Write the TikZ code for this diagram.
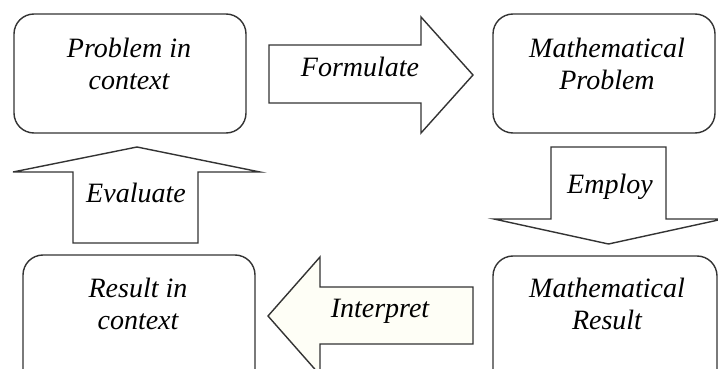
\documentclass[tikz,border=0pt]{standalone}
\usepackage{fontspec}
\setmainfont{Liberation Serif}
\usetikzlibrary{positioning}

\definecolor{ivory}{HTML}{FEFEF6}
\definecolor{edge}{HTML}{333333}

\tikzset{
  box/.style={draw=edge, line width=1.4pt, rounded corners=20pt, fill=white},
  txt/.style={align=center, font=\fontsize{28}{32}\selectfont\itshape, inner sep=0pt},
  blockarrow/.style={draw=edge, line width=1.4pt, line join=miter, fill=white}
}

\begin{document}
\begin{tikzpicture}[x=1pt,y=-1pt]

\clip (0,0) rectangle (718,369);
\fill[white] (0,0) rectangle (718,369);

% boxes
\node[box, minimum width=232pt, minimum height=119pt] (pic) at (130,73.5) {};
\node[box, minimum width=222pt, minimum height=119pt] (mp) at (604,73.5) {};
\node[box, minimum width=224pt, minimum height=150pt] (mr) at (605,331) {};
\node[box, minimum width=232pt, minimum height=150pt] (ric) at (139,330) {};

% box texts
\node[txt] (pictext) at (129,64) {Problem in\\context};
\node[txt] (mptext) at (607,64) {Mathematical\\Problem};
\node[txt] (mrtext) at (607,304) {Mathematical\\Result};
\node[txt] (rictext) at (138,304) {Result in\\context};

% block arrows
\draw[blockarrow] (269,45) -- (421,45) -- (421,17) -- (473,75)
  -- (421,133) -- (421,103) -- (269,103) -- cycle;
\draw[blockarrow] (551,147) -- (666,147) -- (666,219) -- (723,219)
  -- (608.5,244) -- (494,219) -- (551,219) -- cycle;
\draw[blockarrow, fill=ivory] (473,287) -- (320,287) -- (320,257) -- (268,316)
  -- (320,375) -- (320,344) -- (473,344) -- cycle;
\draw[blockarrow] (73,243) -- (73,172) -- (13,172) -- (137,147)
  -- (260,172) -- (198,172) -- (198,243) -- cycle;

% arrow texts
\node[txt, anchor=base] (formulate) at (360,77) {Formulate};
\node[txt, anchor=base] (employ) at (610,193) {Employ};
\node[txt, anchor=base] (interpret) at (380,317) {Interpret};
\node[txt, anchor=base] (evaluate) at (136,202) {Evaluate};

\end{tikzpicture}
\end{document}
